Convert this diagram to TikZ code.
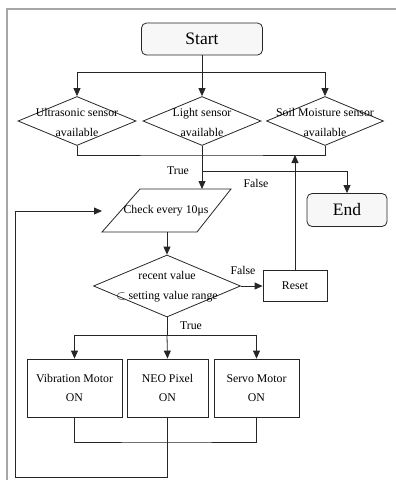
\documentclass[tikz,border=0pt]{standalone}
\usepackage{fontspec}
\setmainfont{Liberation Serif}
\usetikzlibrary{arrows.meta,shapes.geometric}
\begin{document}
\begin{tikzpicture}[x=1pt,y=-1pt,
  line/.style={draw=black!85, line width=0.8pt},
  arr/.style={line, -{Triangle[length=8pt,width=7pt]}},
  term/.style={draw=black!85, line width=0.8pt, rounded corners=5pt, fill=gray!6,
    minimum height=32pt, inner sep=0pt, font=\fontsize{17.5}{20}\selectfont},
  dia/.style={draw=black!85, line width=0.8pt, diamond, inner sep=0pt,
    minimum width=118pt, minimum height=49pt},
  boxn/.style={draw=black!85, line width=0.8pt, rectangle, inner sep=0pt,
    minimum height=58pt, align=center, font=\fontsize{11.8}{19}\selectfont},
  txt/.style={align=center, inner sep=0pt, font=\fontsize{11.8}{20}\selectfont},
  lbl/.style={inner sep=0pt, font=\fontsize{11.8}{14}\selectfont}]
\useasboundingbox (0,0) rectangle (396,480);
% frame
\draw[gray!70, line width=1.4pt] (7,480) -- (7,9) -- (396,9);

% start
\node[term, minimum width=121pt] (start) at (202,39) {Start};
\coordinate (split1) at (202,72);
\node[dia] (d1) at (77,121) {};
\node[dia] (d2) at (202,121) {};
\node[dia, minimum width=117pt] (d3) at (325,121) {};
\node[txt] (t1) at (77,122) {Ultrasonic sensor\\available};
\node[txt] (t2) at (202,122) {Light sensor\\available};
\node[txt] (t3) at (325,122) {Soil Moisture sensor\\available};
\draw[line] (start.south) -- (split1);
\draw[arr] (split1) -| (d1.north);
\draw[arr] (split1) -| (d3.north);
\draw[arr] (split1) -- (d2.north);

% join
\coordinate (join1) at (202,155);
\coordinate (tsplit) at (202,171);
\draw[line] (d1.south) |- (join1) -| (d3.south);
\draw[line] (d2.south) -- (tsplit);

% end
\node[term, minimum width=80pt, minimum height=33pt] (endn) at (347,210) {End};
\draw[arr] (tsplit) -| (endn.north);
\node[lbl] (ltrue1) at (178,171) {True};
\node[lbl] (lfalse1) at (256,183) {False};

% check parallelogram
\coordinate (pBL) at (102,232);
\coordinate (pTL) at (140,189);
\coordinate (pTR) at (231,189);
\coordinate (pBR) at (197,232);
\draw[line] (pBL) -- (pTL) -- (pTR) -- (pBR) -- cycle;
\node[lbl] (check) at (166,211) {Check every 10μs};
\coordinate (chktop) at (202,189);
\coordinate (chkbot) at (167,232);
\draw[arr] (tsplit) -- (chktop);

% decision
\node[dia, minimum width=147pt, minimum height=62pt] (dec) at (167,286) {};
\node[txt] (dect) at (167,287) {recent value\\$\subset$ setting value range};
\draw[arr] (chkbot) -- (dec.north);

% reset
\node[boxn, minimum width=64pt, minimum height=31pt] (reset) at (295,286) {Reset};
\draw[arr] (dec.east) -- (reset.west);
\node[lbl] (lfalse2) at (243,270) {False};
\coordinate (rjoin) at (295,155);
\draw[arr] (reset.north) -- (rjoin);

% outputs
\coordinate (split2) at (167,335);
\node[boxn, minimum width=95pt] (b1) at (74.5,388) {Vibration Motor\\ON};
\node[boxn, minimum width=81pt] (b2) at (167.5,388) {NEO Pixel\\ON};
\node[boxn, minimum width=85pt] (b3) at (256.5,388) {Servo Motor\\ON};
\node[lbl] (ltrue2) at (191,326) {True};
\draw[line] (dec.south) -- (split2);
\draw[arr] (split2) -| (b1.north);
\draw[arr] (split2) -| (b3.north);
\draw[arr] (split2) -- (b2.north);

% join + loop
\coordinate (join3) at (167.5,442);
\coordinate (lb) at (167.5,477);
\coordinate (ll) at (15,477);
\coordinate (lt) at (15,211);
\coordinate (loopend) at (102,211);
\draw[line] (b1.south) |- (join3) -| (b3.south);
\draw[arr] (b2.south) -- (lb) -- (ll) -- (lt) -- (loopend);
\end{tikzpicture}
\end{document}
